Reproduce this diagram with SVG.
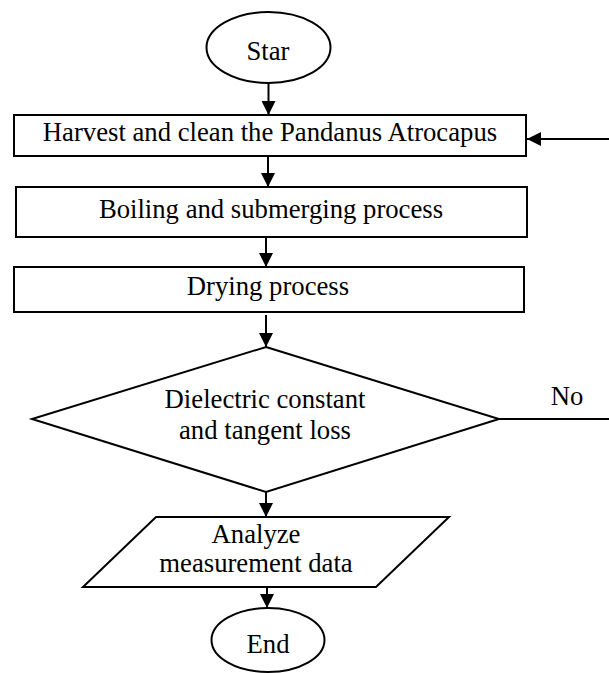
<svg xmlns="http://www.w3.org/2000/svg" width="609" height="673" viewBox="0 0 609 673">
<defs>
<marker id="ah" viewBox="0 0 14 14" refX="14" refY="7" markerWidth="14" markerHeight="14" markerUnits="userSpaceOnUse" orient="auto">
<path d="M0,0 L14,7 L0,14 Z" fill="#000"/>
</marker>
</defs>
<style>
.s{fill:#fff;stroke:#000;stroke-width:2}
.t{font-family:"Liberation Serif","Times New Roman",serif;font-size:26.7px;fill:#000;text-anchor:middle}
.c{fill:none;stroke:#000;stroke-width:2}
</style>
<rect width="609" height="673" fill="#fff"/>
<g id="start">
<ellipse class="s" cx="268.5" cy="47.5" rx="62" ry="35.5"/>
<text class="t" x="268" y="60">Star</text>
</g>
<g id="harvest">
<rect class="s" x="14" y="115" width="512" height="41"/>
<text class="t" x="270" y="141">Harvest and clean the Pandanus Atrocapus</text>
</g>
<g id="boiling">
<rect class="s" x="16" y="187" width="511" height="50"/>
<text class="t" x="271" y="218">Boiling and submerging process</text>
</g>
<g id="drying">
<rect class="s" x="14" y="267" width="510" height="45"/>
<text class="t" x="268" y="295">Drying process</text>
</g>
<g id="decision">
<polygon class="s" points="266,347 499,419 266,492 32,419"/>
<text class="t" x="265" y="408">Dielectric constant</text>
<text class="t" x="265" y="439">and tangent loss</text>
</g>
<g id="analyze">
<polygon class="s" points="156,517 449,517 376,587 83,587"/>
<text class="t" x="256" y="543">Analyze</text>
<text class="t" x="256" y="572">measurement data</text>
</g>
<g id="end">
<ellipse class="s" cx="268" cy="640" rx="56.5" ry="32"/>
<text class="t" x="268" y="653">End</text>
</g>
<g id="connectors">
<line class="c" x1="268.5" y1="83" x2="268.5" y2="115" marker-end="url(#ah)"/>
<line class="c" x1="268" y1="156" x2="268" y2="187" marker-end="url(#ah)"/>
<line class="c" x1="266" y1="237" x2="266" y2="267" marker-end="url(#ah)"/>
<line class="c" x1="266" y1="315" x2="266" y2="347" marker-end="url(#ah)"/>
<line class="c" x1="266" y1="492" x2="266" y2="517" marker-end="url(#ah)"/>
<line class="c" x1="267" y1="587" x2="267" y2="608" marker-end="url(#ah)"/>
<line class="c" x1="499" y1="419" x2="609" y2="419"/>
<line class="c" x1="609" y1="139" x2="527" y2="139" marker-end="url(#ah)"/>
<text class="t" x="567" y="405">No</text>
</g>
</svg>
